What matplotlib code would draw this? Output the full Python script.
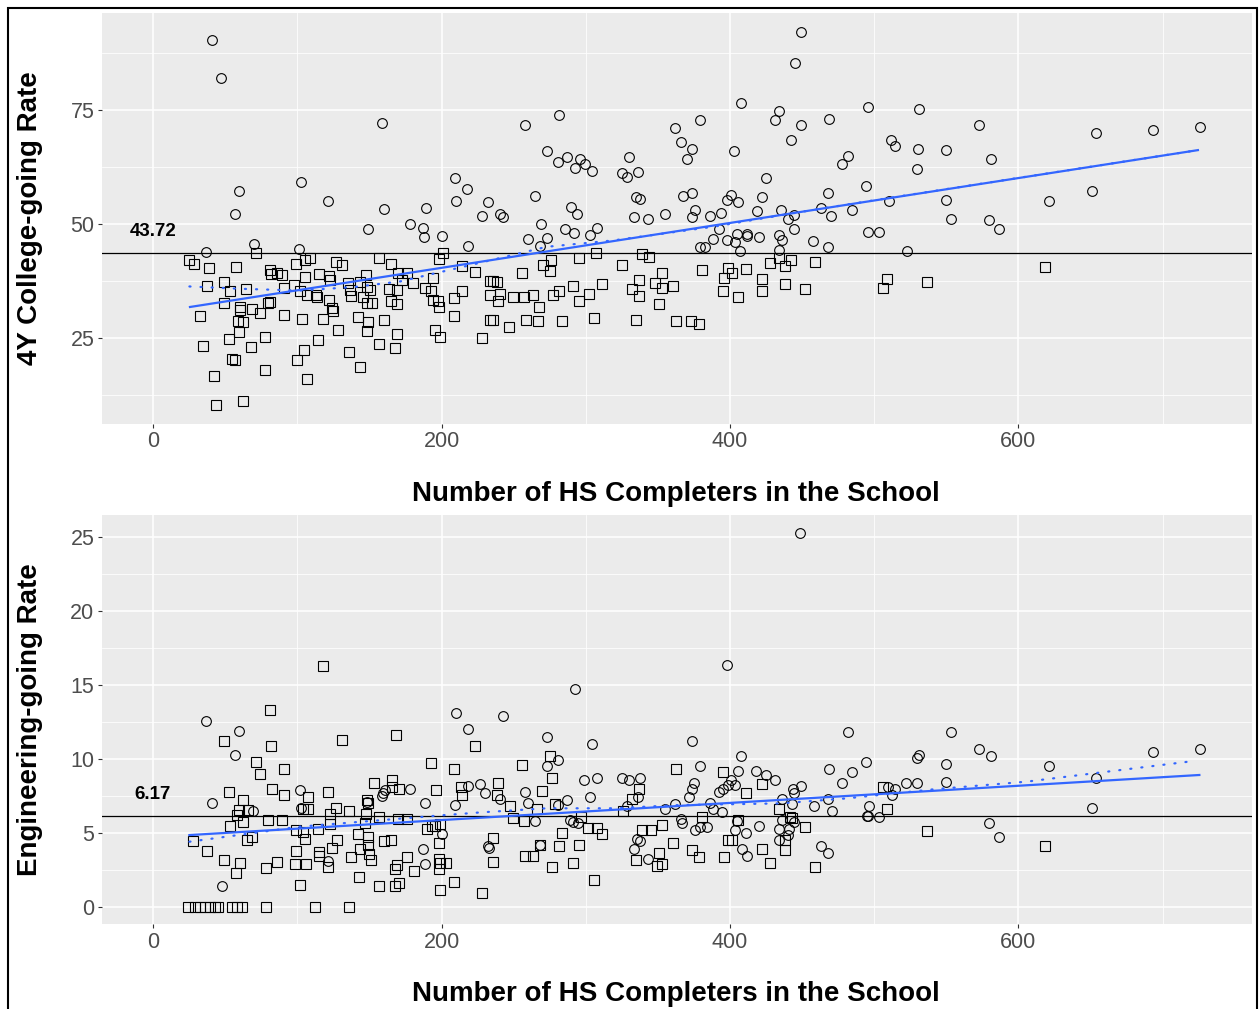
import matplotlib
matplotlib.use("Agg")
import matplotlib.pyplot as plt
from matplotlib.patches import Rectangle

plt.rcParams['font.family'] = ['Liberation Sans', 'DejaVu Sans']

# ---------------- data: top panel (4Y college-going rate) ----------------
college_mean = 43.72
college_circle_x = [40.9, 47.4, 159, 59.6, 102.4, 56.8, 121.3, 160, 189, 209, 218, 210, 232.5, 227.9,
                    449, 445, 407.4, 434.2, 431.4, 449, 468.4, 495.4, 442.3, 402.8, 482, 477.6, 425, 494.3,
                    467.7, 422, 400.5, 397.7, 405.3, 418.5, 435.4, 463.3, 484.6, 470, 444.2, 394, 375.5,
                    373.9, 367.6, 386.1, 354.7, 336, 325, 328.8, 330.2, 361.9, 366.2, 373.7, 379.2, 370.2,
                    335, 337.8, 257.9, 281.2, 273.3, 280.5, 287.2, 296.2, 292.5, 299.3, 304.1, 265, 289.8,
                    294.2, 240.6, 242.8, 333.2, 343, 373.7,
                    530.8, 572.6, 511.8, 514.6, 530.3, 549.7, 580.9, 529.6, 653.7, 693.2, 725.8, 510.2,
                    549.7, 621.1, 651.2, 553, 579.8,
                    495.9, 503.5, 586.5, 522.5,
                    269, 285.4, 291.9, 303, 308, 260, 273, 268.3, 392.4, 388, 398.1, 404.6, 403.2, 411.6,
                    412, 420, 379.2, 382.7, 407.2, 434.2, 435.8, 434, 440.4, 444.4, 457.8, 467.7,
                    149.3, 178.2, 187, 188.1, 200.6, 218.2, 70, 36.7, 101.4]
college_circle_y = [90.3, 82.1, 72.1, 57.2, 59.2, 52.3, 55.1, 53.3, 53.5, 60.1, 57.7, 55.0, 54.8, 51.8,
                    92.0, 85.4, 76.5, 74.7, 72.7, 71.8, 73.0, 75.7, 68.4, 65.9, 65.0, 63.2, 60.1, 58.3,
                    56.8, 56.0, 56.3, 55.3, 54.8, 52.9, 53.0, 53.5, 53.1, 51.8, 52.0, 52.4, 53.1,
                    56.9, 56.2, 51.8, 52.1, 61.3, 61.1, 60.2, 64.8, 71.1, 67.9, 66.5, 72.9, 64.3,
                    56.0, 55.5, 71.6, 74.0, 66.1, 63.5, 64.6, 64.3, 62.2, 63.2, 61.7, 56.2, 53.7,
                    52.1, 52.3, 51.6, 51.5, 51.2, 51.6,
                    75.2, 71.8, 68.5, 67.0, 66.4, 66.2, 64.2, 62.1, 70.0, 70.6, 71.2, 55.1,
                    55.3, 55.1, 57.2, 51.2, 50.9,
                    48.2, 48.2, 48.8, 44.0,
                    50.0, 48.8, 48.1, 47.6, 49.1, 46.7, 46.9, 45.2, 48.9, 46.7, 46.5, 47.7, 46.1, 47.8,
                    47.4, 47.1, 45.0, 45.0, 44.1, 47.6, 46.6, 44.4, 51.0, 48.9, 46.3, 45.0,
                    48.8, 50.0, 49.2, 47.2, 47.3, 45.2, 45.6, 43.9, 44.5]
college_square_x = [25.2, 28.4, 38.8, 57.3, 71.2, 37.2, 49.2, 53.4, 64.5, 49.2, 60.3, 68.6, 74.4, 81.1,
                    32.4, 58.7, 62.2, 59.6, 52.9, 34.9, 67.9, 77.9, 54.5, 57.1, 42.3, 43.7, 62.2, 77.9,
                    90.8, 103.5, 117.6, 114.6, 104.9, 99.6, 106.8, 128, 136.1, 143.5, 141.9, 149.3, 148.4,
                    160.4, 156.9, 167.8, 168.9, 195.7, 199.2, 208.9, 228.3, 233.6, 214, 208.9, 223.2, 214,
                    201.2, 198.3, 194.3, 192.9, 197.4, 188.6, 180.5, 175.9, 170, 172.4, 168.9, 164.8,
                    156.9, 168.9, 165, 163.8, 147.7, 143.5, 148.1, 145.8, 148.1, 151.5, 150.4, 137, 135.4,
                    136.6, 131.2, 126.9, 122.2, 122.7, 121.8, 123.9, 124.6, 113.7, 113, 107, 105.4, 115.3,
                    101.9, 98.9, 105.4, 108.8, 98, 91, 89.2, 81.3, 85.8, 81.8, 80, 60.3, 233.6, 233.6,
                    198.5, 194.3,
                    275.7, 270.6, 275.2, 295.1, 306.9, 255.8, 325.4, 339, 344, 235.9, 238.3, 240.6, 239.4,
                    249.4, 257.2, 263.2, 267.8, 277.1, 281.5, 291.4, 295.5, 302, 311.3, 235.9, 247, 258.6,
                    266.7, 283.3, 305.7, 337.1, 331.8, 337.1, 348, 352.6, 352.6, 360.3, 351, 334.8, 362.4,
                    373.2, 378.5, 380.6, 398.6, 396.1, 401.2, 395, 405.8, 411.3, 422, 422, 427.9, 434.2,
                    438.3, 442.1, 438.3, 452.2, 459.1,
                    508.6, 506.3, 536.4, 618.1]
college_square_y = [42.1, 41.2, 40.3, 40.5, 43.7, 36.5, 37.2, 35.3, 35.7, 32.7, 31.1, 31.4, 30.5, 32.9,
                    29.8, 28.8, 28.4, 26.4, 24.8, 23.2, 23.0, 25.2, 20.3, 20.2, 16.7, 10.3, 11.2, 18.0,
                    30.0, 29.1, 29.1, 24.5, 22.4, 20.2, 15.9, 26.7, 21.9, 18.6, 29.7, 28.6, 26.5,
                    28.9, 23.7, 22.8, 25.9, 26.7, 25.2, 29.8, 25.1, 28.9, 35.4, 33.8, 39.5, 40.8,
                    43.7, 42.3, 38.2, 35.2, 33.2, 35.9, 37.0, 39.3, 39.3, 37.7, 35.5, 41.2,
                    42.6, 32.5, 33.2, 35.7, 38.8, 37.3, 36.2, 34.0, 32.7, 32.6, 35.5, 34.2, 37.0,
                    35.5, 41.0, 41.7, 38.6, 37.7, 33.3, 31.5, 31.0, 33.9, 34.4, 34.4, 38.4, 39.0,
                    35.2, 41.2, 42.1, 42.6, 36.6, 35.9, 38.8, 39.9, 39.2, 39.1, 32.7, 31.9, 34.4, 37.4,
                    31.9, 33.3,
                    42.0, 41.1, 39.6, 42.5, 43.6, 39.3, 41.1, 43.5, 42.7, 37.5, 37.3, 34.6, 33.2,
                    34.0, 34.0, 34.4, 31.8, 34.5, 35.3, 36.5, 33.2, 34.6, 36.9, 28.9, 27.5, 28.9,
                    28.7, 28.7, 29.4, 37.7, 35.7, 34.3, 37.1, 39.2, 35.9, 36.3, 32.4, 29.0, 28.7,
                    28.7, 28.1, 39.9, 40.4, 38.2, 39.2, 35.4, 34.1, 40.1, 37.9, 35.3, 41.4, 42.5,
                    40.8, 42.1, 36.8, 35.7, 41.7,
                    38.0, 35.9, 37.2, 40.6]
college_fit_x = [25.6, 724.4]
college_fit_y = [31.8, 66.2]
college_smooth_x = [25.2, 60, 101.9, 140, 171.2, 217.5, 272.9, 319.1, 388.4, 450, 500, 600, 724.4]
college_smooth_y = [36.3, 35.8, 35.4, 36.2, 37.4, 40.8, 45.0, 46.4, 49.4, 52.7, 55.2, 60.1, 66.2]

# ---------------- data: bottom panel (engineering-going rate) ----------------
eng_mean = 6.17
eng_circle_x = [448.5, 36.7, 59.6, 56.8, 210.3, 218.1, 101.9, 178, 160.8, 218.1, 226.7,
                40.9, 69.5, 102.6, 148.5, 159.7, 158.5, 188.8, 230, 209.4, 47.6, 121.5, 187, 188.4, 200.6, 232,
                398.1, 292.3, 242.8, 273.3, 304.1, 373.7, 482, 280.8, 272.9, 299, 307.8, 324.9, 330.2,
                337.8, 379.4, 407.4, 405.3, 418.3, 424.7, 431.2, 468.4, 484.8, 494.3, 477.6, 374.8,
                449, 400.5,
                240.6, 257.9, 260.2, 281, 287.2, 302.7, 336, 328.4, 354.9, 361.9, 371.6, 373.4, 386.1,
                388.4, 394.2, 392.6, 394.9, 398.8, 403.5, 443.9, 444.4, 435.8, 442.8, 458.2, 467.7,
                470.5, 494.8, 265, 289.1, 291.4, 294.4, 233.1, 268.3, 335.7, 337.6, 333.4, 343.4, 366,
                366.9, 375.7, 379.2, 383.8, 405.1, 403.5, 411.3, 419.9, 408.3, 412, 434.2, 434.2, 440.4,
                441.1, 444.4, 463.1, 467.7, 435.8,
                509.8, 514.4, 512.1, 522, 529.9, 549.7, 496.6, 495.9, 503.5, 579.8, 586.3, 651.2,
                529.4, 530.8, 553, 572.6, 581, 549.7, 621.1, 653.7, 693.2, 725.8]
eng_circle_y = [25.3, 12.6, 11.9, 10.3, 13.1, 12.0, 7.9, 8.0, 7.9, 8.2, 8.3,
                7.0, 6.5, 6.7, 7.1, 7.7, 7.5, 7.0, 7.7, 6.9, 1.4, 3.1, 3.9, 2.9, 4.9, 4.1,
                16.35, 14.7, 12.9, 11.5, 11.0, 11.2, 11.8, 9.95, 9.5, 8.6, 8.75, 8.7, 8.6,
                8.7, 9.55, 10.2, 9.2, 9.2, 8.95, 8.6, 9.3, 9.1, 9.8, 8.4, 8.4,
                8.2, 8.6,
                7.3, 7.75, 7.05, 6.9, 7.2, 7.4, 7.45, 6.8, 6.65, 6.95, 7.4, 8.0, 7.0,
                6.65, 6.4, 7.8, 7.97, 8.25, 8.25, 7.95, 7.7, 7.3, 6.95, 6.8, 7.3,
                6.5, 6.15, 5.8, 5.9, 5.76, 5.65, 4.0, 4.2, 4.6, 4.45, 3.9, 3.25, 5.95,
                5.7, 5.2, 5.4, 5.4, 5.8, 5.2, 5.0, 5.5, 3.95, 3.45, 5.3, 4.5, 4.85,
                5.3, 5.76, 4.15, 3.65, 5.9,
                8.1, 7.95, 7.6, 8.35, 8.35, 8.45, 6.8, 6.15, 6.1, 5.7, 4.7, 6.7,
                10.05, 10.3, 11.8, 10.7, 10.2, 9.65, 9.5, 8.7, 10.45, 10.7]
eng_square_x = [117.6, 81.3, 49, 81.6, 131.2, 168.7, 71.4, 74.4, 91, 223.4, 192.7, 208.7, 153.4, 165.7,
                52.9, 82.3, 121.1, 165.7, 170.7, 196, 213.5,
                62.2, 59.8, 58, 62.2, 66, 53.4, 90.8, 107.7, 79.9, 89.2, 104.2, 107.7, 122.7, 126.9,
                136.1, 147.7, 148.1, 148.8, 214, 156.9, 169.6, 175.9, 147, 122.7, 114.6, 99.1, 104.2,
                105.4, 68.4, 65, 27.9, 37.2, 49.2, 60.3, 57.5,
                24.5, 29.1, 32.6, 36, 39.5, 43, 45.3, 54.5, 58, 61.5, 78.1, 112.3, 136.1,
                78.1, 85.8, 98.4, 105.9, 99.1, 101.9, 115.1, 115.1, 121.3, 124.3, 127.8, 137, 141.9,
                143, 143.5, 149.3, 150, 150.9, 148.8, 156.9, 160.4, 165, 167.8, 170.5, 168.9, 167.8,
                175.9, 181, 189.7, 193.2, 195.5, 199, 198.5, 198, 199, 203, 198.5, 208.9, 199, 227.9,
                275.2, 255.8, 276.4, 239.4, 362.4, 395.1, 422.4,
                238.7, 247.5, 269.7, 266.4, 278.7, 337.1, 331.8, 325.6, 411.3, 434.2, 249.4, 257.4,
                296.5, 301.8, 307.6, 311, 283.3, 235.9, 235.9, 257.9, 263.6, 268.3, 281.5, 295.5,
                276.6, 291.4, 305.7, 338.8, 345.2, 352.6, 334.8, 351, 349.2, 352.6, 360.3, 380.8,
                373.4, 378.5, 396, 398.4, 401.6, 405.8, 422, 427.7, 438.1, 438.1, 441.6, 442.8, 452, 459,
                505.8, 508.6, 536.4, 618.1]
eng_square_y = [16.3, 13.3, 11.2, 10.9, 11.3, 11.6, 9.8, 9.0, 9.3, 10.9, 9.7, 9.3, 8.4, 8.6,
                7.75, 8.0, 7.8, 8.1, 8.0, 7.9, 8.1,
                7.2, 6.55, 6.2, 5.76, 6.55, 5.5, 7.55, 7.45, 5.9, 5.9, 6.6, 6.6, 6.3, 6.7,
                6.5, 6.3, 7.2, 7.0, 7.55, 6.1, 5.95, 5.95, 5.65, 5.6, 5.3, 5.2, 5.1,
                4.6, 4.7, 4.5, 4.45, 3.8, 3.2, 2.95, 2.3,
                0, 0, 0, 0, 0, 0, 0, 0, 0, 0, 0, 0, 0,
                2.65, 3.05, 2.9, 2.9, 3.8, 1.5, 3.7, 3.45, 2.7, 4.0, 4.5, 3.35, 4.9,
                2.05, 3.9, 4.2, 3.6, 3.2, 4.75, 1.45, 4.45, 4.5, 1.45, 1.6, 2.85, 2.55,
                3.35, 2.4, 5.3, 5.5, 5.5, 5.6, 4.3, 3.25, 2.95, 2.95, 2.6, 1.7, 1.15, 0.97,
                10.2, 9.6, 8.75, 8.35, 9.3, 9.1, 8.3,
                7.55, 6.8, 7.85, 6.65, 6.95, 7.95, 7.3, 6.5, 7.7, 6.6, 6.0, 5.8,
                6.05, 5.35, 5.35, 4.9, 5.0, 4.65, 3.05, 3.45, 3.45, 4.2, 4.15, 4.2,
                2.7, 2.95, 1.8, 5.2, 5.2, 5.55, 3.2, 3.65, 2.8, 2.9, 4.35, 6.05,
                3.85, 3.4, 3.4, 4.5, 4.5, 5.9, 3.9, 2.95, 4.5, 3.85, 6.1, 6.0, 5.4, 2.7,
                8.1, 6.6, 5.15, 4.1]
eng_fit_x = [25.2, 725.4]
eng_fit_y = [4.86, 8.92]
eng_smooth_x = [25.2, 101.9, 194.3, 226.7, 272.9, 319.1, 365.3, 434.7, 480.9, 541, 605.7, 651.9, 721.2]
eng_smooth_y = [4.41, 5.43, 6.15, 6.39, 6.67, 6.67, 6.89, 7.0, 7.34, 7.95, 8.47, 9.03, 9.86]

x_ticks = [0, 200, 400, 600]
x_minor = [100, 300, 500, 700]
college_ticks = [25, 50, 75]
college_minor = [12.5, 37.5, 62.5, 87.5]
eng_ticks = [0, 5, 10, 15, 20, 25]
eng_minor = [2.5, 7.5, 12.5, 17.5, 22.5]
x_title = "Number of HS Completers in the School"

W, H = 1259, 1009
fig = plt.figure(figsize=(W / 100, H / 100), dpi=100)


def px_axes(l, t, r, b):
    return fig.add_axes([l / W, 1 - b / H, (r - l) / W, (b - t) / H])


ax1 = px_axes(102, 13, 1252, 423.5)
ax2 = px_axes(102, 515, 1252, 924)

BLUE = '#3366FF'


def draw(ax, cx, cy, sx, sy, mean, fx, fy, smx, smy, yt, ym, ylim, label):
    ax.set_facecolor('#EBEBEB')
    for s in ax.spines.values():
        s.set_visible(False)
    ax.set_xlim(-35.4, 761.9)
    ax.set_ylim(*ylim)
    ax.set_xticks(x_ticks)
    ax.set_xticks(x_minor, minor=True)
    ax.set_yticks(yt)
    ax.set_yticks(ym, minor=True)
    ax.grid(which='major', color='white', lw=1.1, zorder=0)
    ax.grid(which='minor', color='white', lw=0.55, zorder=0)
    ax.set_axisbelow(True)
    ax.tick_params(which='major', length=3, width=0.8, color='#333333',
                   labelsize=15.5, labelcolor='#4D4D4D', pad=2.5)
    ax.tick_params(which='minor', length=0)
    ax.plot(cx, cy, 'o', ms=7.0, mfc='none', mec='black', mew=0.8, zorder=3)
    ax.plot(sx, sy, 's', ms=7.8, mfc='none', mec='black', mew=0.8, zorder=3)
    ax.axhline(mean, color='black', lw=0.9, zorder=4)
    ax.plot(smx, smy, color=BLUE, lw=1.6, ls=(0, (0.5, 4.5)), dash_capstyle='round', zorder=5)
    ax.plot(fx, fy, color=BLUE, lw=1.6, zorder=5)
    ax.annotate(label, (0, mean), xytext=(0, 15.5), textcoords='offset points',
                ha='center', va='center', fontsize=13.5, fontweight='bold', color='black')


draw(ax1, college_circle_x, college_circle_y, college_square_x, college_square_y,
     college_mean, college_fit_x, college_fit_y, college_smooth_x, college_smooth_y,
     college_ticks, college_minor, (6.25, 96.27), f"{college_mean:.2f}")
draw(ax2, eng_circle_x, eng_circle_y, eng_square_x, eng_square_y,
     eng_mean, eng_fit_x, eng_fit_y, eng_smooth_x, eng_smooth_y,
     eng_ticks, eng_minor, (-1.15, 26.49), f"{eng_mean:.2f}")

fig.text(676 / W, 1 - 494 / H, x_title, ha='center', va='center', fontsize=20, fontweight='bold')
fig.text(676 / W, 1 - 994 / H, x_title, ha='center', va='center', fontsize=20, fontweight='bold')
fig.text(30 / W, 1 - 218 / H, "4Y College-going Rate", rotation=90, ha='center', va='center',
         fontsize=20, fontweight='bold')
fig.text(30 / W, 1 - 720 / H, "Engineering-going Rate", rotation=90, ha='center', va='center',
         fontsize=20, fontweight='bold')

fig.add_artist(Rectangle((8 / W, -0.05), (1257 - 8) / W, 1 - 8 / H + 0.05,
                         transform=fig.transFigure, fill=False, ec='black', lw=1.5))

fig.savefig('out.png', dpi=100, facecolor='white')
